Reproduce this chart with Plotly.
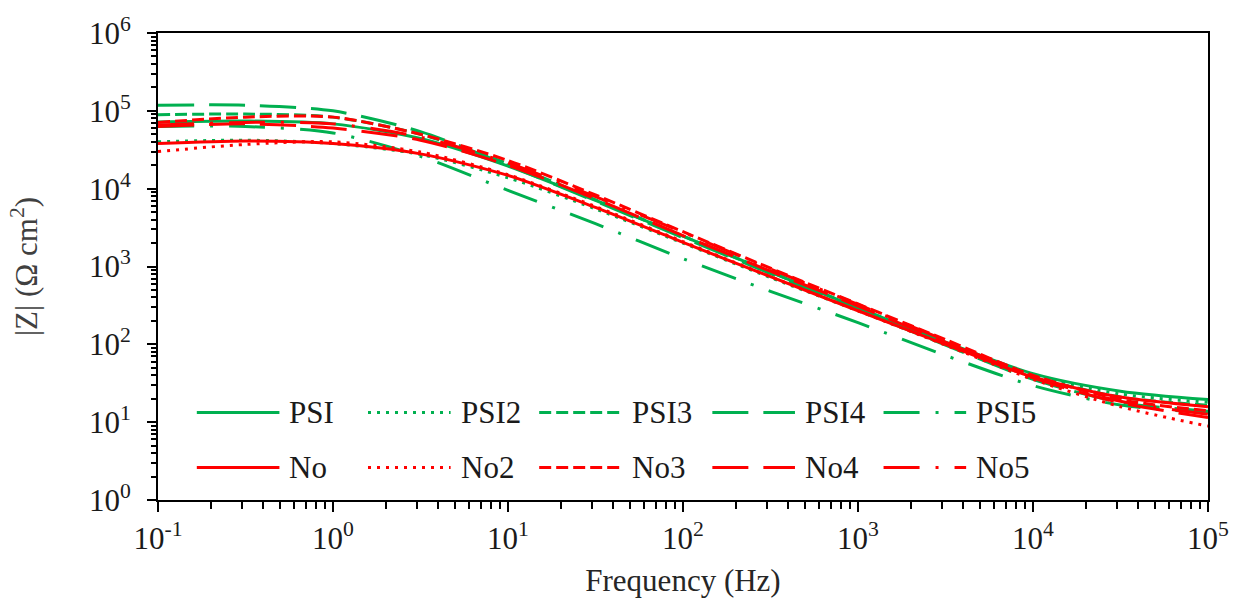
import plotly.graph_objects as go

# ---------------- data ----------------
freq = [0.1, 0.316, 1, 3.16, 10, 31.6, 100, 316, 1000, 3160, 10000, 31600, 100000]

z_psi  = [72000, 74000, 68000, 44000, 19500, 7100, 2450, 850, 295, 107, 42, 25, 19.5]
z_psi2 = [40000, 42000, 38000, 27500, 13800, 5500, 2000, 720, 270, 100, 40, 23, 18]
z_psi3 = [89000, 91000, 83000, 50000, 21000, 7200, 2450, 850, 295, 105, 39, 21, 16.5]
z_psi4 = [118000, 118000, 100000, 54000, 20000, 6900, 2350, 810, 280, 98, 35.5, 18, 13.8]
z_psi5 = [63000, 63000, 52000, 26000, 9500, 3550, 1260, 480, 190, 72, 29.5, 16.6, 13.2]
z_no   = [38000, 41000, 38000, 28000, 14800, 5750, 2040, 740, 270, 100, 38, 21, 15.8]
z_no2  = [30000, 37000, 40000, 29500, 15100, 5900, 2090, 740, 270, 98, 35.5, 15.8, 8.9]
z_no3  = [71000, 83000, 83000, 50000, 23000, 8300, 2800, 950, 330, 115, 40, 19.5, 14]
z_no4  = [63000, 68000, 60000, 42000, 20000, 7400, 2500, 870, 310, 107, 37, 17.8, 11.5]
z_no5  = [66000, 71000, 68000, 46000, 21400, 7900, 2750, 930, 325, 112, 38, 18.6, 12.6]

names = ["PSI", "PSI2", "PSI3", "PSI4", "PSI5", "No", "No2", "No3", "No4", "No5"]
values = [z_psi, z_psi2, z_psi3, z_psi4, z_psi5, z_no, z_no2, z_no3, z_no4, z_no5]

x_tickvals = [0.1, 1, 10, 100, 1000, 10000, 100000]
x_ticktext = ["10<sup>-1</sup>", "10<sup>0</sup>", "10<sup>1</sup>", "10<sup>2</sup>",
              "10<sup>3</sup>", "10<sup>4</sup>", "10<sup>5</sup>"]
y_tickvals = [1, 10, 100, 1000, 10000, 100000, 1000000]
y_ticktext = ["10<sup>0</sup>", "10<sup>1</sup>", "10<sup>2</sup>", "10<sup>3</sup>",
              "10<sup>4</sup>", "10<sup>5</sup>", "10<sup>6</sup>"]

# ---------------- styles ----------------
GREEN = "#00B050"
RED = "#FF0000"
colors = [GREEN] * 5 + [RED] * 5
dash_styles = ["solid", "3px,6px", "12px,5px", "36px,15px", "36px,16px,3px,16px"] * 2
LW = 3
FONT = "Times New Roman, Liberation Serif, DejaVu Serif, serif"

fig = go.Figure()
for name, z, col, dsh in zip(names, values, colors, dash_styles):
    fig.add_trace(go.Scatter(
        x=freq, y=z, name=name, mode="lines",
        line=dict(color=col, width=LW, dash=dsh, shape="spline", smoothing=0.8),
        showlegend=False,
    ))

# ---------------- custom legend (long line samples like the original) ----------------
W, H = 1241, 604
L, R, T, B = 158, 28, 27, 102
pw, ph = W - L - R, H - T - B

def px_x(px):
    return (px - L) / pw

def px_y(py):
    return (H - B - py) / ph

col_start = [197, 369, 541, 715, 887]
sample_len = 83
row_y = [413, 469]
shapes = []
annotations = []
for i, (name, col, dsh) in enumerate(zip(names, colors, dash_styles)):
    r, c = divmod(i, 5)
    x0 = col_start[c]
    y = row_y[r]
    shapes.append(dict(type="line", xref="paper", yref="paper",
                       x0=px_x(x0), x1=px_x(x0 + sample_len), y0=px_y(y), y1=px_y(y),
                       line=dict(color=col, width=LW, dash=dsh)))
    annotations.append(dict(xref="paper", yref="paper", x=px_x(x0 + sample_len + 8), y=px_y(y),
                            xanchor="left", yanchor="middle", showarrow=False, text=name,
                            font=dict(family=FONT, size=31, color="#1a1a1a")))

minor_x = [m * 10 ** e for e in range(-1, 5) for m in range(2, 10)]
minor_y = [m * 10 ** e for e in range(0, 6) for m in range(2, 10)]

fig.update_layout(
    width=W, height=H,
    margin=dict(l=L, r=R, t=T, b=B),
    paper_bgcolor="white", plot_bgcolor="white",
    font=dict(family=FONT, size=31, color="#1a1a1a"),
    shapes=shapes, annotations=annotations,
    xaxis=dict(
        type="log", range=[-1, 5],
        showgrid=False, zeroline=False,
        showline=True, linecolor="black", linewidth=2, mirror=True,
        ticks="outside", ticklen=10, tickwidth=2, tickcolor="black",
        tickmode="array", tickvals=x_tickvals, ticktext=x_ticktext,
        tickfont=dict(family=FONT, size=31, color="#1a1a1a"),
        minor=dict(ticks="outside", ticklen=7, tickwidth=1.5, tickcolor="black", tickvals=minor_x),
        title=dict(text="Frequency (Hz)", font=dict(family=FONT, size=31, color="#262626"), standoff=14),
    ),
    yaxis=dict(
        type="log", range=[0, 6],
        showgrid=False, zeroline=False,
        showline=True, linecolor="black", linewidth=2, mirror=True,
        ticks="outside", ticklen=9, tickwidth=2, tickcolor="black",
        ticklabelstandoff=10,
        tickmode="array", tickvals=y_tickvals, ticktext=y_ticktext,
        tickfont=dict(family=FONT, size=31, color="#1a1a1a"),
        minor=dict(ticks="outside", ticklen=5, tickwidth=1.5, tickcolor="black", tickvals=minor_y),
        title=dict(text="|Z| (Ω cm<sup>2</sup>)", font=dict(family=FONT, size=31, color="#404040"), standoff=42),
    ),
)

fig.write_html("out.html")
